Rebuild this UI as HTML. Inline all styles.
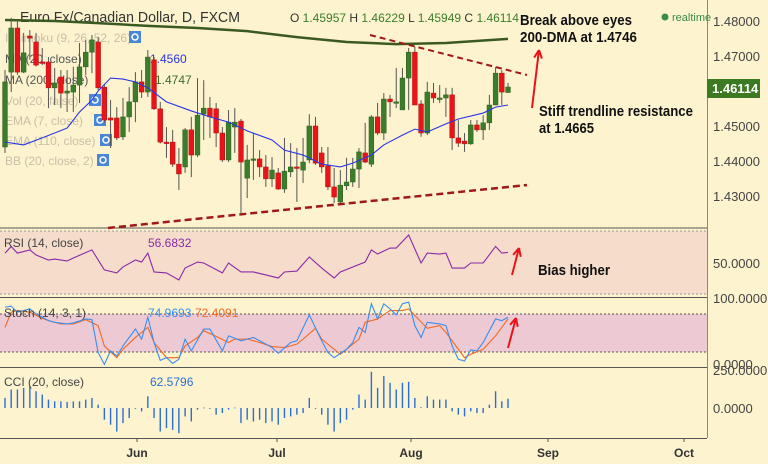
<!DOCTYPE html>
<html><head><meta charset="utf-8"><style>
html,body{margin:0;padding:0;background:#fdf3cf;}
svg{display:block;font-family:"Liberation Sans",sans-serif;}
</style></head><body>
<svg id="c" width="768" height="464" viewBox="0 0 768 464">
<rect x="0" y="0" width="768" height="464" fill="#fdf3cf"/>
<rect x="0" y="231" width="707" height="63" fill="#f5dccb"/>
<rect x="0" y="314" width="707" height="38" fill="#ecc9d3"/>
<g id="g"></g>
</svg>
<script>
// ---- data ----
const opens=[1.4440,1.4654,1.4780,1.4654,1.4757,1.4740,1.4683,1.4683,1.4609,1.4640,1.4594,1.4597,1.4617,1.4669,1.4711,1.4740,1.4611,1.4523,1.4523,1.4469,1.4526,1.4569,1.4626,1.4597,1.4689,1.4549,1.4454,1.4454,1.4391,1.4383,1.4489,1.4417,1.4534,1.4551,1.4549,1.4480,1.4403,1.4497,1.4514,1.4351,1.4406,1.4406,1.4383,1.4349,1.4366,1.4320,1.4369,1.4383,1.4374,1.4403,1.4500,1.4423,1.4386,1.4326,1.4283,1.4329,1.4340,1.4377,1.4423,1.4391,1.4526,1.4480,1.4577,1.4569,1.4546,1.4637,1.4711,1.4563,1.4480,1.4594,1.4580,1.4580,1.4589,1.4466,1.4457,1.4449,1.4503,1.4489,1.4509,1.4560,1.4651,1.45957];
const highs=[1.4660,1.4809,1.4803,1.4766,1.4774,1.4766,1.4723,1.4697,1.4666,1.4660,1.4660,1.4669,1.4737,1.4746,1.4760,1.4754,1.4617,1.4574,1.4554,1.4580,1.4611,1.4654,1.4660,1.4717,1.4697,1.4569,1.4497,1.4489,1.4437,1.4494,1.4526,1.4637,1.4631,1.4583,1.4566,1.4497,1.4546,1.4551,1.4520,1.4446,1.4480,1.4431,1.4417,1.4411,1.4380,1.4466,1.4451,1.4437,1.4466,1.4534,1.4526,1.4440,1.4440,1.4380,1.4374,1.4409,1.4409,1.4437,1.4509,1.4531,1.4566,1.4594,1.4589,1.4666,1.4666,1.4723,1.4726,1.4574,1.4626,1.4623,1.4617,1.4609,1.4609,1.4517,1.4480,1.4517,1.4517,1.4531,1.4589,1.4669,1.4660,1.46229];
const lows=[1.4423,1.4597,1.4646,1.4651,1.4689,1.4670,1.4674,1.4551,1.4560,1.4551,1.4540,1.4540,1.4566,1.4646,1.4651,1.4603,1.4510,1.4437,1.4460,1.4460,1.4483,1.4511,1.4580,1.4583,1.4546,1.4450,1.4409,1.4383,1.4317,1.4366,1.4354,1.4411,1.4460,1.4466,1.4440,1.4397,1.4397,1.4423,1.4251,1.4294,1.4346,1.4354,1.4326,1.4326,1.4317,1.4309,1.4354,1.4283,1.4337,1.4394,1.4389,1.4366,1.4317,1.4280,1.4280,1.4317,1.4326,1.4323,1.4394,1.4383,1.4474,1.4460,1.4526,1.4551,1.4546,1.4546,1.4560,1.4469,1.4474,1.4566,1.4566,1.4526,1.4431,1.4440,1.4426,1.4446,1.4483,1.4460,1.4489,1.4560,1.4560,1.45949];
const closes=[1.4626,1.4780,1.4654,1.4709,1.4751,1.4674,1.4680,1.4609,1.4623,1.4594,1.4600,1.4617,1.4669,1.4711,1.4746,1.4609,1.4517,1.4517,1.4466,1.4526,1.4569,1.4626,1.4597,1.4697,1.4549,1.4454,1.4451,1.4391,1.4363,1.4489,1.4417,1.4531,1.4551,1.4526,1.4480,1.4403,1.4511,1.4511,1.4397,1.4403,1.4406,1.4383,1.4349,1.4374,1.4320,1.4371,1.4383,1.4380,1.4397,1.4500,1.4394,1.4383,1.4326,1.4297,1.4331,1.4340,1.4377,1.4426,1.4397,1.4526,1.4480,1.4577,1.4569,1.4569,1.4637,1.4711,1.4560,1.4480,1.4597,1.4580,1.4580,1.4589,1.4466,1.4451,1.4449,1.4503,1.4489,1.4509,1.4560,1.4651,1.4597,1.46114];
const ma20Idx=[0,3,6,10,12,14,15,17,19,21,23,26,30,33,36,39,43,45,48,51,54,56,59,61,64,66,68,71,73,77,79,81];
const ma20Val=[1.4454,1.4446,1.4466,1.4494,1.4540,1.4574,1.4600,1.4637,1.4634,1.4626,1.4609,1.4569,1.4543,1.4526,1.4511,1.4486,1.4460,1.4431,1.4417,1.4391,1.4383,1.4394,1.4417,1.4446,1.4474,1.4491,1.4483,1.4506,1.4520,1.4537,1.4554,1.4560];
const ma200Idx=[0,8,15,23,31,39,47,55,63,71,81];
const ma200Val=[1.4803,1.4800,1.4794,1.4786,1.4780,1.4771,1.4754,1.4740,1.4734,1.4737,1.4749];
const rsiIdx=[0,1,2,4,5,7,8,10,11,14,16,18,19,21,22,23,24,26,28,29,31,32,35,36,38,40,42,44,45,47,49,51,53,54,58,59,60,62,63,65,67,68,70,71,72,74,75,77,79,80,81];
const rsiVal=[56.3,60.5,56.3,58.3,55.1,51.9,52.5,51.3,53.2,58.3,45.6,43.7,47.5,51.9,50.6,56.3,44.3,43.7,39.2,46.8,50.6,50.0,43.7,50.0,44.3,44.3,42.4,40.5,44.3,44.9,53.8,46.8,40.5,44.3,50.6,58.3,55.7,59.5,59.5,67.8,50.0,56.3,55.7,56.3,46.8,46.8,50.0,50.0,60.5,56.3,56.7];
const kIdx=[0,1,2,4,5,7,8,10,11,13,14,15,16,17,18,19,21,22,23,24,25,26,27,28,29,30,32,33,35,36,38,40,42,43,44,46,47,49,51,52,53,55,56,57,58,59,60,61,62,63,64,65,66,67,68,70,71,72,73,74,75,76,77,79,80,81];
const kVal=[90.8,92.3,82.9,88.1,80.3,69.8,67.2,64.6,66.2,72.4,71.4,20.1,1.7,22.7,14.8,30.5,56.7,41.0,75.0,35.8,8.0,12.2,3.3,9.6,41.0,22.7,56.7,56.7,22.7,46.2,38.4,43.6,33.2,27.9,19.0,35.8,38.4,78.7,38.4,20.1,12.2,25.3,35.8,59.3,51.5,96.0,72.4,96.0,88.1,78.7,96.0,98.6,62.0,43.6,67.2,64.6,62.0,30.5,9.6,7.0,24.3,22.7,35.8,72.4,69.8,75.0];
const dIdx=[0,1,2,4,6,7,9,11,13,15,16,18,19,21,23,24,26,28,29,31,32,34,36,37,39,41,43,45,47,48,50,51,54,55,57,58,60,62,64,65,66,68,70,71,74,75,77,79,81];
const dVal=[59.3,82.9,85.5,82.9,73.5,69.8,64.6,64.6,71.4,62.0,30.5,12.2,25.3,43.6,59.3,35.8,12.2,12.2,30.5,43.6,54.1,45.2,35.8,41.0,41.0,35.8,29.5,27.9,33.2,41.0,57.8,41.0,17.5,25.3,41.0,67.2,72.4,85.5,85.5,88.1,77.7,57.8,62.0,51.5,12.2,17.5,25.3,46.2,72.4];
const cciVal=[68,125,125,136,148,113,91,57,45,45,41,45,45,57,68,23,-79,-113,-159,-102,-68,-5,-23,79,-68,-159,-136,-148,-170,-57,-91,-11,3,-5,-45,-34,-11,3,-102,-79,-91,-79,-102,-91,-113,-68,-57,-45,-34,68,-5,-45,-113,-159,-102,-79,-11,91,57,245,136,216,170,125,170,177,68,5,79,57,57,57,-23,-45,-57,-23,-34,-34,23,113,45,63];
const priceTicks=[1.48,1.47,1.46,1.45,1.44,1.43];
const monthLabels=["Jun","Jul","Aug","Sep","Oct"];
const monthX=[137,277,411,548,684];

// ---- scales ----
const X=i=>5+i*6.21;
const PY=p=>21+(1.48-p)*3500;
const RY=v=>263-(v-50)*1.575;
const SY=v=>365.5-v*0.643;
const CY=v=>408-v*0.148;
const NS="http://www.w3.org/2000/svg";
const g=document.getElementById('g');
function mk(tag,attrs,parent){const e=document.createElementNS(NS,tag);for(const k in attrs)e.setAttribute(k,attrs[k]);(parent||g).appendChild(e);return e;}
function txt(x,y,s,fill,size,weight,anchor,len){const e=mk('text',{x:x,y:y,fill:fill,'font-size':size,'font-weight':weight||'normal','text-anchor':anchor||'start'});if(len){e.setAttribute('textLength',len);e.setAttribute('lengthAdjust','spacingAndGlyphs');}e.textContent=s;return e;}

let e;
e=mk('line',{x1:0,y1:228,x2:707,y2:228,stroke:'#555','stroke-width':1});


e=mk('line',{x1:0,y1:297.5,x2:707,y2:297.5,stroke:'#555','stroke-width':1});


e=mk('line',{x1:0,y1:367.5,x2:707,y2:367.5,stroke:'#555','stroke-width':1});


e=mk('line',{x1:0,y1:438.5,x2:707,y2:438.5,stroke:'#555','stroke-width':1});


e=mk('line',{x1:707.5,y1:0,x2:707.5,y2:438,stroke:'#888','stroke-width':1});


[[231,'#999'],[294,'#999'],[314,'#555'],[352,'#555']].forEach(([y,c])=>{
 const l=mk('line',{x1:0,y1:y,x2:707,y2:y,stroke:c,'stroke-width':1,'stroke-dasharray':'2,2'});
 
 
});

txt(20,22,'Euro Fx/Canadian Dollar, D, FXCM','#333',15,'normal','start',220);
const leg=[['Ichimoku (9, 26, 52, 26)',42,'#c8c0a8',129],['MA (20, close)',63,'#555',0],['MA (200, close)',84,'#555',0],['Vol (20, false)',105,'#c8c0a8',89],['EMA (7, close)',125,'#c8c0a8',94],['EMA (110, close)',145,'#c8c0a8',100],['BB (20, close, 2)',165,'#c8c0a8',97]];
leg.forEach(([s,y,c,ix])=>{const t=txt(5,y,s,c,12);
 if(ix){const r=mk('rect',{x:ix,y:y-11,width:12,height:12,fill:'#4a86d8'});
  mk('circle',{cx:ix+6,cy:y-5,r:3,fill:'none',stroke:'#fff','stroke-width':1.5});}
});
txt(150,63,'1.4560','#2b35e0',12);
txt(155,84,'1.4747','#3d6b2a',12);
const oh=mk('text',{x:290,y:22,'font-size':12,fill:'#333'});
oh.innerHTML='O <tspan fill="#3a7d2a">1.45957</tspan> H <tspan fill="#3a7d2a">1.46229</tspan> L <tspan fill="#3a7d2a">1.45949</tspan> C <tspan fill="#3a7d2a">1.46114</tspan>';
mk('circle',{cx:665,cy:17,r:3.5,fill:'#3b8b4b'});
txt(672,21,'realtime','#3b8b4b',11);

let pts=ma200Idx.map((k,j)=>X(k)+','+PY(ma200Val[j])).join(' ');
e=mk('polyline',{points:pts,fill:'none',stroke:'#3a5a22','stroke-width':2.5});


e=mk('line',{x1:370,y1:35,x2:527,y2:75,stroke:'#a01818','stroke-width':2,'stroke-dasharray':'6,4'});


e=mk('line',{x1:108,y1:228,x2:527,y2:185,stroke:'#a01818','stroke-width':2.5,'stroke-dasharray':'7,4'});



for(let i=0;i<opens.length;i++){
 const x=X(i),up=closes[i]>=opens[i];
 const w=mk('line',{x1:x,y1:PY(highs[i]),x2:x,y2:PY(lows[i]),stroke:'#555','stroke-width':1});
 
 
 const t=PY(Math.max(opens[i],closes[i])),b=PY(Math.min(opens[i],closes[i]));
 const r=mk('rect',{x:x-2.4,y:t,width:4.8,height:Math.max(1.5,b-t),fill:up?'#3a7d2a':'#e8141a',stroke:up?'#2c5e1e':'#b01010','stroke-width':0.5});
 
 
}
pts=ma20Idx.map((k,j)=>X(k)+','+PY(ma20Val[j])).join(' ');
e=mk('polyline',{points:pts,fill:'none',stroke:'#2a35e8','stroke-width':1.1});



priceTicks.forEach(p=>{const t=txt(713,PY(p)+5,p.toFixed(5),'#444',13);});
e=mk('rect',{x:707,y:79,width:53,height:19,fill:'#3c7a22'});


txt(712,93,'1.46114','#fff',13,'bold');

const a1=txt(520,25,'Break above eyes','#111',15,'bold','start',112);
txt(520,42,'200-DMA at 1.4746','#111',15,'bold','start',117);
const a2=txt(539,116,'Stiff trendline resistance','#111',15,'bold','start',154);
txt(539,133,'at 1.4665','#111',15,'bold','start',55);
const a3=txt(538,275,'Bias higher','#111',15,'bold','start',72);
function arrow(x1,y1,x2,y2,name){const grp=mk('g',{});
 mk('line',{x1:x1,y1:y1,x2:x2,y2:y2,stroke:'#e8141a','stroke-width':2},grp);
 const ang=Math.atan2(y2-y1,x2-x1),L=9;
 [0.45,-0.45].forEach(d=>mk('line',{x1:x2,y1:y2,x2:x2-L*Math.cos(ang+d),y2:y2-L*Math.sin(ang+d),stroke:'#e8141a','stroke-width':2},grp));}
arrow(532,108,539,50,'arrow-main');
arrow(512,275,519,248,'arrow-rsi');
arrow(508,348,516,318,'arrow-stoch');

pts=rsiIdx.map((k,j)=>X(k)+','+RY(rsiVal[j])).join(' ');
e=mk('polyline',{points:pts,fill:'none',stroke:'#8a2aa8','stroke-width':1.1});


txt(4,247,'RSI (14, close)','#444',12);
txt(148,247,'56.6832','#8a2aa8',12);
txt(713,268,'50.0000','#444',13);

pts=dIdx.map((k,j)=>X(k)+','+SY(dVal[j])).join(' ');
e=mk('polyline',{points:pts,fill:'none',stroke:'#f06a22','stroke-width':1.1});


pts=kIdx.map((k,j)=>X(k)+','+SY(kVal[j])).join(' ');
e=mk('polyline',{points:pts,fill:'none',stroke:'#3a8ef0','stroke-width':1.1});


txt(4,317,'Stoch (14, 3, 1)','#444',12);
txt(148,317,'74.9693','#3a8ef0',12);
txt(195,317,'72.4091','#f06a22',12);
txt(713,303,'100.0000','#444',13);
txt(713,369,'0.0000','#444',13);

cciVal.forEach((v,i)=>{const y0=CY(0),y1=CY(v);
 const r=mk('rect',{x:X(i)-0.7,y:Math.min(y0,y1),width:1.4,height:Math.max(0.8,Math.abs(y1-y0)),fill:'#2a6ed8'});
 
 
});
txt(4,386,'CCI (20, close)','#444',12);
txt(150,386,'62.5796','#2a6ed8',12);
txt(713,375,'250.0000','#444',13);
txt(713,413,'0.0000','#444',13);

monthLabels.forEach((m,j)=>{
 mk('line',{x1:monthX[j],y1:438,x2:monthX[j],y2:442,stroke:'#555'});
 const t=txt(monthX[j],457,m,'#333',12,'bold','middle');
});
</script>
</body></html>
